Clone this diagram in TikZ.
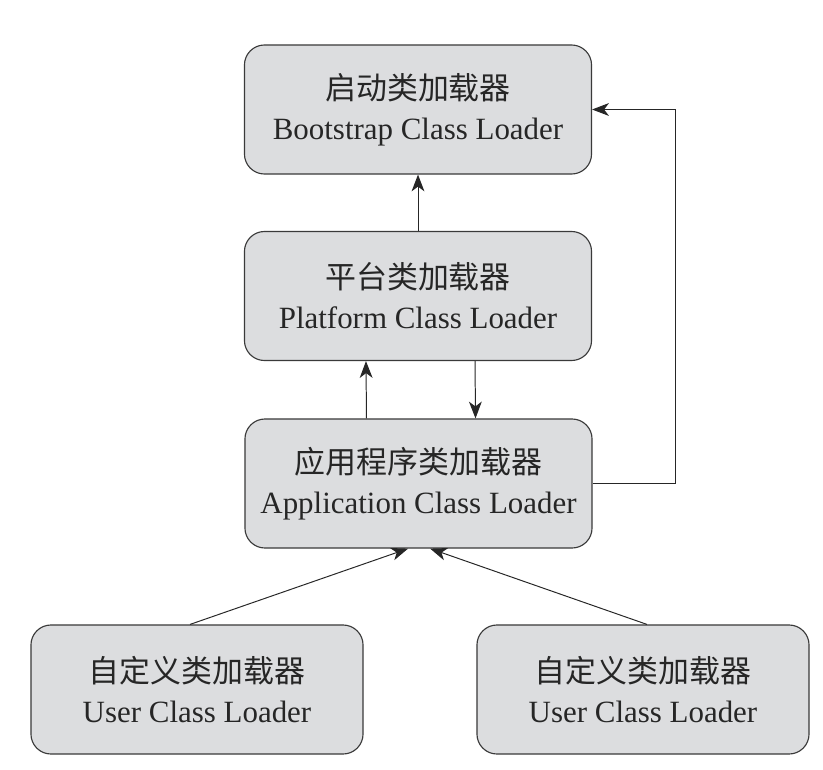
\documentclass[tikz,border=0pt]{standalone}
\usepackage{fontspec}
\setmainfont{Liberation Serif}
\newfontfamily\cjk{Noto Sans CJK SC}
\usetikzlibrary{positioning,arrows.meta}
\definecolor{boxgray}{HTML}{DCDDDF}
\definecolor{edgegray}{HTML}{3A3A3A}

\begin{document}
\begin{tikzpicture}[
            x=0.025cm, y=-0.025cm,
            loader/.style={rectangle, rounded corners=0.5cm, draw=edgegray, fill=boxgray, line width=0.8pt,
                minimum width=8.675cm, minimum height=3.225cm, align=center,
                font=\fontsize{22}{28.5}\selectfont, text=black!85},
            user/.style={loader, minimum width=8.3cm},
            line/.style={draw=black!85, line width=0.7pt, -{Stealth[length=0.42cm, width=0.32cm, inset=0.12cm]}}
        ]
        \useasboundingbox (0,0) rectangle (823,770);

        % Top node
        \node[loader] (boot) at (418,109.5) {{\cjk 启动类加载器}\\Bootstrap Class Loader};

        % Middle nodes
        \node[loader] (platform) at (418,296) {{\cjk 平台类加载器}\\Platform Class Loader};
        \node[loader] (app) at (418.5,483.5) {{\cjk 应用程序类加载器}\\Application Class Loader};

        % Bottom level - user loaders
        \node[user] (user_left) at (197,689.5) {{\cjk 自定义类加载器}\\User Class Loader};
        \node[user] (user_right) at (643,689.5) {{\cjk 自定义类加载器}\\User Class Loader};

        \draw[line] (platform.north) -- (boot.south);

        \draw[line] ([xshift=-1.3cm]app.north) -- ([xshift=-1.3cm]platform.south);
        \draw[line] ([xshift=1.425cm]platform.south) -- ([xshift=1.425cm]app.north);

        \draw[line] (app.east) -- ++(83,0) |- (boot.east);

        \draw[line] ([xshift=-0.175cm]user_left.north) -- ([xshift=-0.26cm]app.south);
        \draw[line] ([xshift=0.1cm]user_right.north) -- ([xshift=0.29cm]app.south);

    \end{tikzpicture}
\end{document}
